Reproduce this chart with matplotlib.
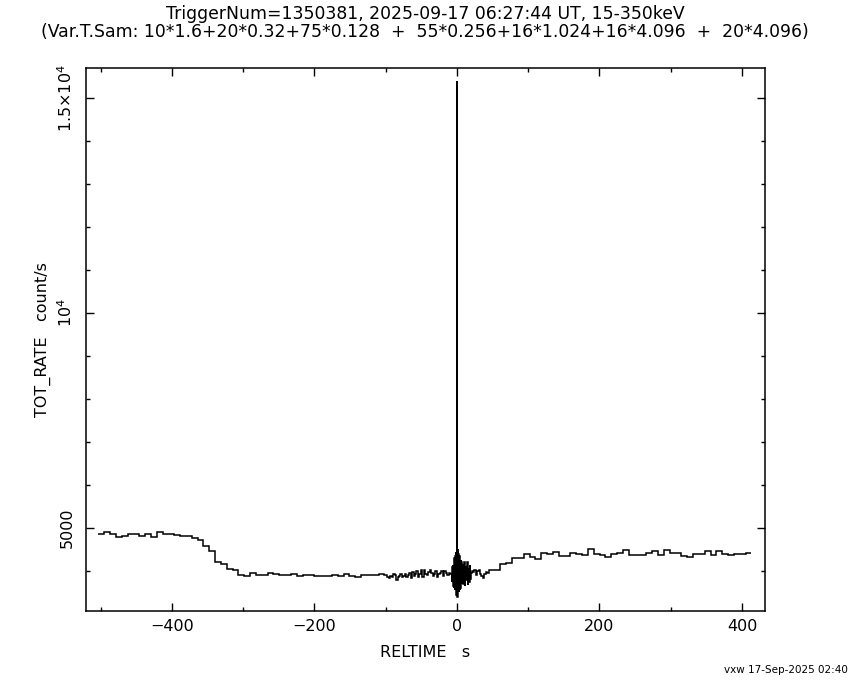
"""BAT light curve around trigger 1350381 (15-350 keV), PGPLOT-style layout."""

import matplotlib

matplotlib.use("Agg")
import matplotlib.pyplot as plt
import numpy as np
from matplotlib.ticker import FixedLocator, MultipleLocator

# DATA -----------------------------------------------------------------------

# the light curve is binned with a variable time sampling; each segment has
# its own bin width (s) and the rates (count/s)
T_START = -503.3

WIDTH_PRE_SLOW = 8.192
RATE_PRE_SLOW = [
    4853, 4900, 4853, 4784, 4807, 4853, 4853, 4807, 4853, 4784,
    4900, 4853, 4853, 4838, 4807, 4807, 4760, 4714, 4574, 4465,
    4202, 4156, 4046, 4015, 3907, 3876, 3946, 3907, 3907, 3946,
    3938, 3907, 3907, 3930, 3876, 3915, 3907, 3891, 3876, 3876,
    3907, 3876, 3922, 3876, 3853, 3907, 3907, 3907, 3922,
]

WIDTH_PRE_FAST = 2.048
RATE_PRE_FAST = [
    3910, 3900, 3870, 3830, 3890, 3850, 3920, 3900, 3800, 3860,
    3880, 3920, 3850, 3880, 3930, 3870, 3900, 3950, 3830, 3970,
    3880, 3940, 3990, 3870, 3920, 4020, 3860, 4030, 3930, 3910,
    3980, 4020, 3960, 3890, 3920, 3990, 3870, 3930, 3960, 4000,
    3880, 3990, 3950, 3900, 3960, 3930,
]

WIDTH_TRIGGER = 0.512
RATE_TRIGGER = [
    3950, 3750, 4100, 3700, 4150, 3650, 4250, 3600, 4300, 3550,
    4350, 3500, 4450, 3450, 4500, 15400, 3400, 4520, 3450, 4400,
    3500, 4350, 3550, 4300, 3600, 4250, 3650, 4200, 3700, 4150,
]

WIDTH_POST_FAST = 1.024
RATE_POST_FAST = [4150, 3700, 4200, 3650, 4100, 3800, 4216, 3680, 4050, 3750,
                  4150, 3820, 3950, 4000]

WIDTH_POST_MID = 2.048
RATE_POST_MID = [3980, 4020, 3900, 3990, 4030, 3940, 3880, 3840, 3930, 3980, 3950]

WIDTH_POST_SLOW = 8.192
RATE_POST_SLOW = [
    4023, 4030, 4160, 4194, 4300, 4295, 4395, 4333, 4271, 4426,
    4395, 4450, 4341, 4341, 4426, 4400, 4364, 4504, 4395, 4380,
    4333, 4395, 4426, 4488, 4372, 4380, 4372, 4426, 4473, 4372,
    4488, 4426, 4426, 4349, 4318, 4395, 4395, 4473, 4380, 4473,
    4395, 4372, 4395, 4395, 4411,
]

TITLE_1 = "TriggerNum=1350381, 2025-09-17 06:27:44 UT, 15-350keV"
TITLE_2 = ("(Var.T.Sam: 10*1.6+20*0.32+75*0.128  +  "
           "55*0.256+16*1.024+16*4.096  +  20*4.096)")
STAMP = "vxw 17-Sep-2025 02:40"

X_TICKS = [-400, -200, 0, 200, 400]
Y_TICKS = [5000, 10000, 15000]
Y_TICK_LABELS = ["5000", r"$10^4$", r"$1.5{\times}10^4$"]


def _build_curve():
    segments = [
        (WIDTH_PRE_SLOW, RATE_PRE_SLOW),
        (WIDTH_PRE_FAST, RATE_PRE_FAST),
        (WIDTH_TRIGGER, RATE_TRIGGER),
        (WIDTH_POST_FAST, RATE_POST_FAST),
        (WIDTH_POST_MID, RATE_POST_MID),
        (WIDTH_POST_SLOW, RATE_POST_SLOW),
    ]
    edges = [T_START]
    rates = []
    for width, values in segments:
        for value in values:
            edges.append(edges[-1] + width)
            rates.append(value)
    return np.array(edges), np.array(rates, dtype=float)


def main() -> None:
    plt.rcParams["font.family"] = "DejaVu Sans"
    plt.rcParams["mathtext.fontset"] = "dejavusans"

    edges, rates = _build_curve()

    fig = plt.figure(figsize=(8.5, 6.8), dpi=100)
    ax = fig.add_axes([86 / 850, 1 - 611 / 680, (765 - 86) / 850, (611 - 68) / 680])
    ax.stairs(rates, edges, baseline=None, color="black", linewidth=1.1)

    ax.set_xlim(-520.7, 432.3)
    ax.set_ylim(3069, 15693)

    ax.xaxis.set_major_locator(FixedLocator(X_TICKS))
    ax.xaxis.set_minor_locator(MultipleLocator(100))
    ax.yaxis.set_major_locator(FixedLocator(Y_TICKS))
    ax.yaxis.set_minor_locator(MultipleLocator(1000))
    ax.set_yticklabels(Y_TICK_LABELS, rotation=90, va="center")

    ax.tick_params(which="both", direction="in", top=True, right=True,
                   width=1.0, labelsize=11.5, color="black")
    ax.tick_params(which="major", length=6)
    ax.tick_params(which="minor", length=3)
    ax.tick_params(axis="x", pad=6)
    ax.tick_params(axis="y", pad=8)
    for spine in ax.spines.values():
        spine.set_linewidth(1.1)

    ax.set_xlabel("RELTIME   s", fontsize=11.5, labelpad=8)
    ax.set_ylabel("TOT_RATE   count/s", fontsize=11.5, labelpad=4)

    fig.text(425 / 850, 1 - 14 / 680, TITLE_1, ha="center", va="center", fontsize=12.4)
    fig.text(425 / 850, 1 - 32 / 680, TITLE_2, ha="center", va="center", fontsize=12.4)
    fig.text(848 / 850, 1 - 670 / 680, STAMP, ha="right", va="center", fontsize=7.5)

    fig.savefig("out.png", dpi=100)


if __name__ == "__main__":
    main()
